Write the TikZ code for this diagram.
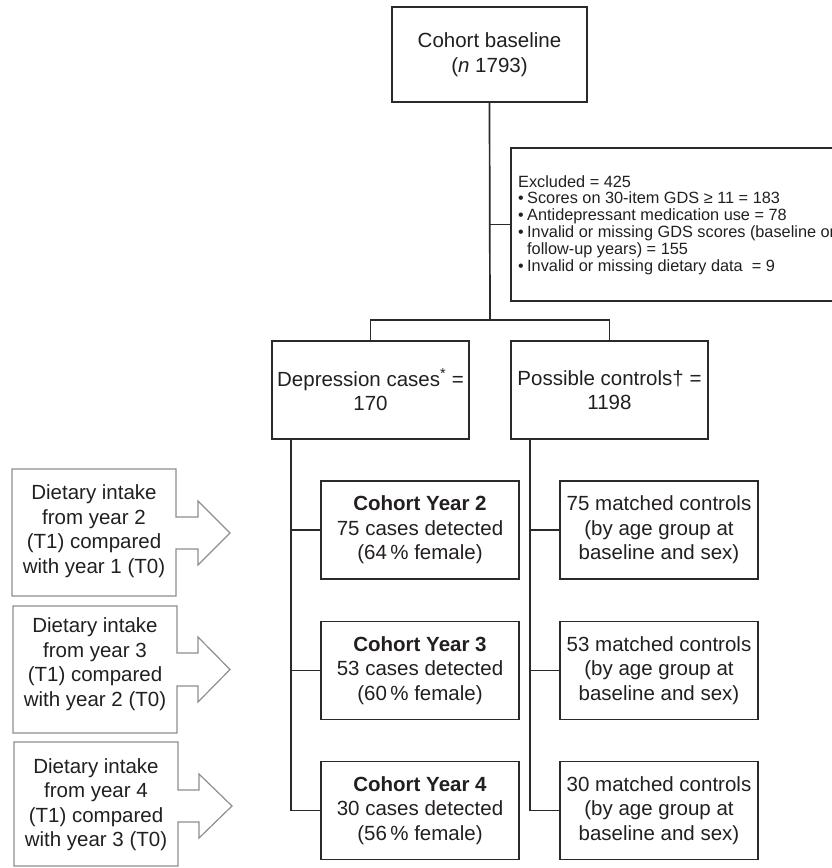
\documentclass[tikz,border=0pt]{standalone}
\usepackage{fontspec}
\setmainfont{Liberation Sans}
\definecolor{txt}{HTML}{231F20}
\definecolor{ln}{HTML}{2A2A2A}
\definecolor{arr}{HTML}{8E8E8E}
\newcommand{\bul}{\makebox[9pt][l]{\raisebox{0.2pt}{\fontsize{16}{16}\selectfont\textbullet}}}
\begin{document}
\begin{tikzpicture}[x=1pt,y=-1pt,
  box/.style={draw=ln, line width=1.7pt, minimum width=197pt, minimum height=98pt,
    inner sep=0pt, align=center, font=\fontsize{20.5}{24.5}\selectfont, text=txt},
  conn/.style={draw=ln, line width=1.7pt},
  arrowshape/.style={draw=arr, line width=1.2pt, line join=miter},
  atext/.style={align=center, font=\fontsize{20.5}{24.5}\selectfont, text=txt, inner sep=0pt}]
\useasboundingbox (0,0) rectangle (832,868);

% main boxes
\node[box, minimum width=195pt, minimum height=95pt] (base) at (489.5,54.5) {Cohort baseline\\(\textit{n} 1793)};
\node[box] (dep) at (370.5,390) {Depression cases\textsuperscript{*} =\\170};
\node[box] (pos) at (609.5,390) {Possible controls† =\\1198};

\node[box, minimum width=198pt] (cy2) at (420,530) {\textbf{Cohort Year 2}\\75 cases detected\\(64\,\% female)};
\node[box, minimum width=198pt] (cy3) at (420,670.5) {\textbf{Cohort Year 3}\\53 cases detected\\(60\,\% female)};
\node[box, minimum width=198pt] (cy4) at (420,810.5) {\textbf{Cohort Year 4}\\30 cases detected\\(56\,\% female)};

\node[box, minimum width=198pt] (mc2) at (659,530) {75 matched controls\\(by age group at\\baseline and sex)};
\node[box, minimum width=198pt] (mc3) at (659,670.5) {53 matched controls\\(by age group at\\baseline and sex)};
\node[box, minimum width=198pt] (mc4) at (659,810.5) {30 matched controls\\(by age group at\\baseline and sex)};

% excluded box (cut by the right edge, as in the reference)
\begin{scope}
\clip (0,0) rectangle (832,868);
\node[draw=ln, line width=1.7pt, minimum width=340pt, minimum height=153pt, inner sep=0pt, anchor=north west] (excl) at (510,147) {};
\node[anchor=north west, align=left, inner sep=0pt, text=txt, font=\fontsize{16.3}{16.9}\selectfont] (excltxt) at (518,175)
{Excluded = 425\\
\bul Scores on 30-item GDS ≥ 11 = 183\\
\bul Antidepressant medication use = 78\\
\bul Invalid or missing GDS scores (baseline or\\
\hspace*{9pt}follow-up years) = 155\\
\bul Invalid or missing dietary data \ = 9};
\end{scope}

% connectors
\coordinate (split) at (490,320);
\coordinate (exclJ) at (base.south |- excl.west);
\draw[conn] (base.south) -- (split);
\draw[conn] (exclJ) -- (excl.west);
\draw[conn] (dep.north) |- (split) -| (pos.north);

\coordinate (ltop) at ([xshift=20pt]dep.south west);
\coordinate (rtop) at ([xshift=20pt]pos.south west);
\draw[conn] (ltop) |- (cy4.west);
\draw[conn] (ltop |- cy2.west) -- (cy2.west);
\draw[conn] (ltop |- cy3.west) -- (cy3.west);
\draw[conn] (rtop) |- (mc4.west);
\draw[conn] (rtop |- mc2.west) -- (mc2.west);
\draw[conn] (rtop |- mc3.west) -- (mc3.west);

% gray arrow callouts
\draw[arrowshape] (12,469) -- (176,469) -- (176,517) -- (198,517) -- (198,501) -- (230,533) -- (198,565) -- (198,549) -- (176,549) -- (176,596) -- (12,596) -- cycle;
\node[atext] (a1) at (94,531) {Dietary intake\\from year 2\\(T1) compared\\with year 1 (T0)};

\draw[arrowshape] (13,606) -- (177,606) -- (177,653) -- (198,653) -- (198,637) -- (230,669.5) -- (198,702) -- (198,686) -- (177,686) -- (177,733) -- (13,733) -- cycle;
\node[atext] (a2) at (95,664) {Dietary intake\\from year 3\\(T1) compared\\with year 2 (T0)};

\draw[arrowshape] (14,742) -- (178,742) -- (178,790) -- (199,790) -- (199,774) -- (232,806) -- (199,838) -- (199,822) -- (178,822) -- (178,866) -- (14,866) -- cycle;
\node[atext] (a3) at (96,804.5) {Dietary intake\\from year 4\\(T1) compared\\with year 3 (T0)};
\end{tikzpicture}
\end{document}
